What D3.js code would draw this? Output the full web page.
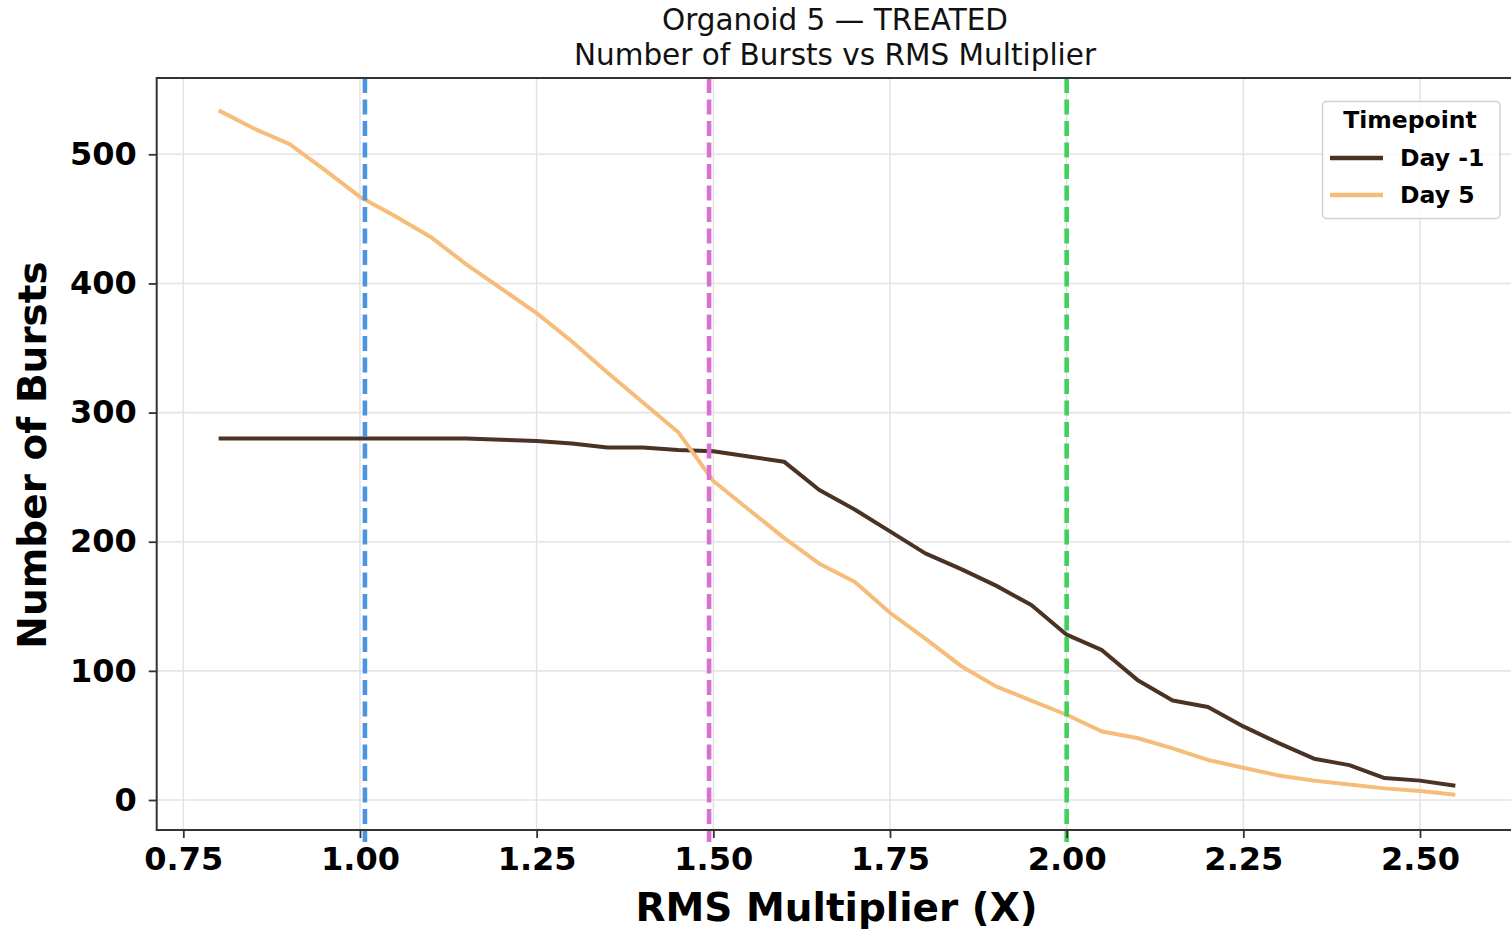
<!DOCTYPE html>
<html>
<head>
<meta charset="utf-8">
<script src="https://cdn.jsdelivr.net/npm/d3@7"></script>
<style>
  html, body { margin: 0; padding: 0; background: #fff; }
  svg { display: block; font-family: "DejaVu Sans", sans-serif; }
</style>
</head>
<body>
<svg id="chart" width="1511" height="937"></svg>
<script>
// ---- data ----
const rmsMultiplier = [0.80, 0.85, 0.90, 0.95, 1.00, 1.05, 1.10, 1.15, 1.20, 1.25,
  1.30, 1.35, 1.40, 1.45, 1.50, 1.55, 1.60, 1.65, 1.70, 1.75,
  1.80, 1.85, 1.90, 1.95, 2.00, 2.05, 2.10, 2.15, 2.20, 2.25,
  2.30, 2.35, 2.40, 2.45, 2.50, 2.55];
const dayMinus1 = [280, 280, 280, 280, 280, 280, 280, 280, 279, 278,
  276, 273, 273, 271, 270, 266, 262, 240, 225, 208,
  191, 179, 166, 151, 128, 116, 93, 77, 72, 57,
  44, 32, 27, 17, 15, 11];
const day5 = [534, 520, 508, 488, 467, 452, 436, 415, 396, 377,
  355, 331, 308, 285, 247, 225, 203, 183, 169, 145,
  125, 104, 88, 77, 66, 53, 48, 40, 31, 25,
  19, 15, 12, 9, 7, 4];
const seriesNames = ["Day -1", "Day 5"];
const seriesColors = ["#4a3324", "#f5bd79"];
const thresholds = [1.007, 1.494, 2.0];
const thresholdColors = ["#4a95e0", "#d96fd2", "#3fd25a"];
const xTicks = [0.75, 1.00, 1.25, 1.50, 1.75, 2.00, 2.25, 2.50];
const yTicks = [0, 100, 200, 300, 400, 500];
const titleLines = ["Organoid 5 \u2014 TREATED", "Number of Bursts vs RMS Multiplier"];
const xLabel = "RMS Multiplier (X)";
const yLabel = "Number of Bursts";
const legendTitle = "Timepoint";

// ---- layout ----
const plot = { left: 156.7, right: 1517, top: 78, bottom: 830 };
const svg = d3.select("#chart");

const x = d3.scaleLinear().domain([0.75, 2.5]).range([183.3, 1420]);
const y = d3.scaleLinear().domain([0, 500]).range([800, 154.3]);

svg.append("defs").append("clipPath").attr("id", "clip")
  .append("rect")
  .attr("x", plot.left).attr("y", plot.top)
  .attr("width", plot.right - plot.left).attr("height", plot.bottom - plot.top);

// grid
const grid = svg.append("g");
grid.selectAll(".gx").data(xTicks).join("line")
  .attr("x1", d => x(d)).attr("x2", d => x(d))
  .attr("y1", plot.top).attr("y2", plot.bottom)
  .attr("stroke", "#e4e4e4").attr("stroke-width", 1.6);
grid.selectAll(".gy").data(yTicks).join("line")
  .attr("x1", plot.left).attr("x2", plot.right)
  .attr("y1", d => y(d)).attr("y2", d => y(d))
  .attr("stroke", "#e4e4e4").attr("stroke-width", 1.6);

// data lines
const g = svg.append("g").attr("clip-path", "url(#clip)");
const line = d3.line().x(d => x(d[0])).y(d => y(d[1]));
const seriesData = [dayMinus1, day5];
seriesData.forEach((vals, i) => {
  g.append("path")
    .datum(rmsMultiplier.map((m, j) => [m, vals[j]]))
    .attr("d", line)
    .attr("fill", "none")
    .attr("stroke", seriesColors[i])
    .attr("stroke-width", 4)
    .attr("stroke-linejoin", "round")
    .attr("stroke-linecap", "butt");
});

// threshold dashed lines
g.selectAll(".thr").data(thresholds).join("line")
  .attr("x1", d => x(d)).attr("x2", d => x(d))
  .attr("y1", plot.top).attr("y2", plot.bottom + 12)
  .attr("stroke", (d, i) => thresholdColors[i])
  .attr("stroke-width", 4.6)
  .attr("stroke-dasharray", "15,6.5");
// dashed lines extend slightly below the axis
svg.append("g").selectAll(".thr2").data(thresholds).join("line")
  .attr("x1", d => x(d)).attr("x2", d => x(d))
  .attr("y1", plot.bottom).attr("y2", plot.bottom + 12)
  .attr("stroke", (d, i) => thresholdColors[i])
  .attr("stroke-width", 4.6);

// spines
svg.append("rect")
  .attr("x", plot.left).attr("y", plot.top)
  .attr("width", plot.right - plot.left).attr("height", plot.bottom - plot.top)
  .attr("fill", "none").attr("stroke", "#333").attr("stroke-width", 2);

// axes
const xAxis = d3.axisBottom(x).tickValues(xTicks).tickFormat(d3.format(".2f"))
  .tickSize(8).tickPadding(9);
const xg = svg.append("g").attr("transform", `translate(0,${plot.bottom})`).call(xAxis);
xg.select(".domain").remove();
xg.selectAll(".tick line").attr("stroke", "#333").attr("stroke-width", 1.8);
xg.selectAll(".tick text").attr("font-size", 32).attr("font-weight", "bold")
  .attr("fill", "#000").attr("font-family", "DejaVu Sans");

const yAxis = d3.axisLeft(y).tickValues(yTicks).tickFormat(d3.format("d"))
  .tickSize(8).tickPadding(12);
const yg = svg.append("g").attr("transform", `translate(${plot.left},0)`).call(yAxis);
yg.select(".domain").remove();
yg.selectAll(".tick line").attr("stroke", "#333").attr("stroke-width", 1.8);
yg.selectAll(".tick text").attr("font-size", 32).attr("font-weight", "bold")
  .attr("fill", "#000").attr("font-family", "DejaVu Sans");

// axis labels
svg.append("text")
  .attr("x", 836.5).attr("y", 921)
  .attr("text-anchor", "middle")
  .attr("font-size", 39).attr("font-weight", "bold")
  .text(xLabel);
svg.append("text")
  .attr("transform", "translate(46,455) rotate(-90)")
  .attr("text-anchor", "middle")
  .attr("font-size", 39).attr("font-weight", "bold")
  .text(yLabel);

// title
svg.selectAll(".title").data(titleLines).join("text")
  .attr("x", 835).attr("y", (d, i) => 30 + i * 35)
  .attr("text-anchor", "middle")
  .attr("font-size", 29.5)
  .attr("fill", "#111")
  .text(d => d);

// legend
const lg = svg.append("g");
lg.append("rect")
  .attr("x", 1322.5).attr("y", 101.5).attr("width", 177.5).attr("height", 117)
  .attr("rx", 4).attr("fill", "#fff").attr("fill-opacity", 0.85)
  .attr("stroke", "#d0d0d0").attr("stroke-width", 1.5);
lg.append("text")
  .attr("x", 1410).attr("y", 128)
  .attr("text-anchor", "middle")
  .attr("font-size", 23.5).attr("font-weight", "bold")
  .text(legendTitle);
seriesNames.forEach((name, i) => {
  const yy = 158 + i * 37;
  lg.append("line")
    .attr("x1", 1330).attr("x2", 1383)
    .attr("y1", yy).attr("y2", yy)
    .attr("stroke", seriesColors[i]).attr("stroke-width", 4.5);
  lg.append("text")
    .attr("x", 1400).attr("y", yy + 8)
    .attr("font-size", 23.5).attr("font-weight", "bold")
    .text(name);
});
</script>
</body>
</html>
